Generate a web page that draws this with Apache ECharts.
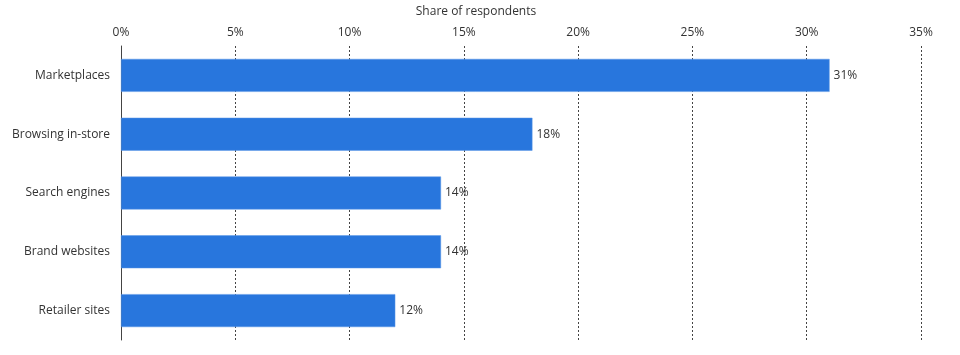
<!DOCTYPE html>
<html>
<head>
<meta charset="utf-8">
<script src="https://cdn.jsdelivr.net/npm/echarts@6/dist/echarts.min.js"></script>
<style>html,body{margin:0;padding:0;background:#fff}#c{width:960px;height:355px}</style>
</head>
<body>
<div id="c"></div>
<script>
var categories = ["Marketplaces", "Browsing in-store", "Search engines", "Brand websites", "Retailer sites"];
var values = [31, 18, 14, 14, 12];
var tickMax = 35;
var tickStep = 5;
var axisTitle = "Share of respondents";

var FF = '"Open Sans", sans-serif';
var chart = echarts.init(document.getElementById('c'));
chart.setOption({
  animation: false,
  textStyle: {fontFamily: FF},
  grid: {left: 121, right: 39, top: 46, bottom: 15, containLabel: false, outerBoundsMode: 'none'},
  xAxis: {
    type: 'value', position: 'top', min: 0, max: tickMax, interval: tickStep,
    name: axisTitle, nameLocation: 'middle', nameGap: 28,
    nameTextStyle: {color: '#333', fontSize: 12, fontFamily: FF, padding: [0, 90, 0, 0]},
    axisLine: {show: false}, axisTick: {show: false},
    axisLabel: {formatter: '{value}%', color: '#333', fontSize: 12, margin: 7, fontFamily: FF},
    splitLine: {show: true, lineStyle: {type: [2, 2], color: '#444', width: 1}}
  },
  yAxis: {
    type: 'category', data: categories, inverse: true,
    axisLine: {show: true, lineStyle: {color: '#444', width: 1}},
    axisTick: {show: false},
    axisLabel: {color: '#333', fontSize: 12, margin: 11, fontFamily: FF}
  },
  series: [{
    type: 'bar', data: values, barCategoryGap: '44%',
    itemStyle: {color: '#2876dd', borderColor: '#5a96e6', borderWidth: 0.5},
    label: {show: true, position: 'right', distance: 4, formatter: '{c}%', color: '#333', fontSize: 12, fontFamily: FF}
  }]
});
</script>
</body>
</html>
